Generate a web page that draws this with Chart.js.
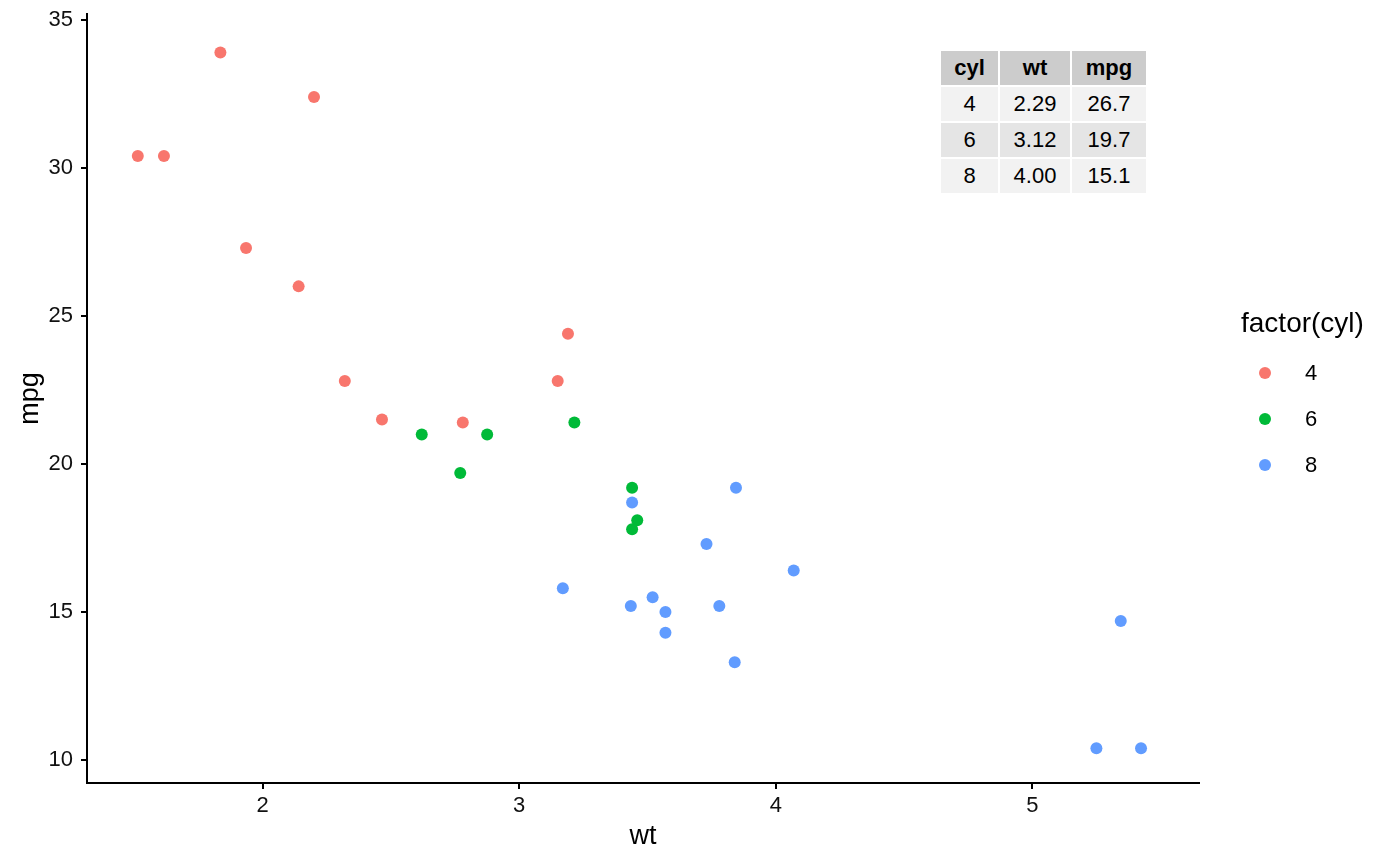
<!DOCTYPE html>
<html>
<head>
<meta charset="utf-8">
<script src="https://cdn.jsdelivr.net/npm/chart.js@4"></script>
<style>
  html,body{margin:0;padding:0;background:#fff;}
  #wrap{position:relative;width:1400px;height:866px;font-family:"Liberation Sans",Arial,sans-serif;}
  canvas{position:absolute;left:0;top:0;}
  #tbl{position:absolute;left:939px;top:49px;border-collapse:separate;border-spacing:2px;background:#fff;}
  #tbl td,#tbl th{padding:0;text-align:center;color:#000;line-height:1;}
  #tbl th{background:#cccccc;font-weight:bold;font-size:22px;height:34px;}
  #tbl td{font-size:22px;height:34px;}
  #tbl tr.r1 td{background:#f2f2f2;}
  #tbl tr.r2 td{background:#e5e5e5;}
  #tbl tr.r3 td{background:#f2f2f2;}
  #legend{position:absolute;left:1229px;top:306px;color:#000;}
  #legend .title{font-size:28px;line-height:34px;margin-bottom:10px;margin-left:12px;white-space:nowrap;}
  #legend .item{height:46px;display:flex;align-items:center;font-size:22px;}
  #legend .dot{width:12px;height:12px;border-radius:50%;display:inline-block;margin-left:30px;margin-right:34px;}
</style>
</head>
<body>
<div id="wrap">
<canvas id="c" width="1400" height="866"></canvas>
<table id="tbl"></table>
<div id="legend"></div>
</div>
<script>
// ---- data (mtcars) ----
const cylLevels = ["4", "6", "8"];
const colors = ["#F8766D", "#00BA38", "#619CFF"];
const wt4  = [2.320, 3.190, 3.150, 2.200, 1.615, 1.835, 2.465, 1.935, 2.140, 1.513, 2.780];
const mpg4 = [22.8, 24.4, 22.8, 32.4, 30.4, 33.9, 21.5, 27.3, 26.0, 30.4, 21.4];
const wt6  = [2.620, 2.875, 3.215, 3.460, 3.440, 3.440, 2.770];
const mpg6 = [21.0, 21.0, 21.4, 18.1, 19.2, 17.8, 19.7];
const wt8  = [3.440, 3.570, 4.070, 3.730, 3.780, 5.250, 5.424, 5.345, 3.520, 3.435, 3.840, 3.845, 3.170, 3.570];
const mpg8 = [18.7, 14.3, 16.4, 17.3, 15.2, 10.4, 10.4, 14.7, 15.5, 15.2, 13.3, 19.2, 15.8, 15.0];
const xTicks = [2, 3, 4, 5];
const yTicks = [10, 15, 20, 25, 30, 35];
const tableHeader = ["cyl", "wt", "mpg"];
const tableCyl = ["4", "6", "8"];
const tableWt = ["2.29", "3.12", "4.00"];
const tableMpg = ["26.7", "19.7", "15.1"];

const toPts = (xs, ys) => xs.map((x, i) => ({x: x, y: ys[i]}));
const series = [toPts(wt4, mpg4), toPts(wt6, mpg6), toPts(wt8, mpg8)];

// table
const tbl = document.getElementById('tbl');
let html = '<tr>' + tableHeader.map((h, i) => `<th style="width:${[57,70,74][i]}px">${h}</th>`).join('') + '</tr>';
for (let i = 0; i < tableCyl.length; i++) {
  html += `<tr class="r${i+1}"><td>${tableCyl[i]}</td><td>${tableWt[i]}</td><td>${tableMpg[i]}</td></tr>`;
}
tbl.innerHTML = html;

// legend
const lg = document.getElementById('legend');
let lh = '<div class="title">factor(cyl)</div>';
cylLevels.forEach((l, i) => { lh += `<div class="item"><span class="dot" style="background:${colors[i]}"></span>${l}</div>`; });
lg.innerHTML = lh;

const font = {family: '"Liberation Sans", Arial, sans-serif'};
new Chart(document.getElementById('c'), {
  type: 'scatter',
  data: {
    datasets: series.map((d, i) => ({
      label: cylLevels[i],
      data: d,
      backgroundColor: colors[i],
      borderWidth: 0,
      pointRadius: 6,
      pointHoverRadius: 6
    }))
  },
  options: {
    responsive: false,
    animation: false,
    devicePixelRatio: 1,
    layout: {padding: {left: 0, right: 201, top: 14, bottom: 0}},
    plugins: {legend: {display: false}, tooltip: {enabled: false}},
    scales: {
      x: {
        type: 'linear', min: 1.315, max: 5.65,
        afterBuildTicks: s => { s.ticks = xTicks.map(v => ({value: v})); },
        afterFit: s => { s.height = 83; s.paddingLeft = 0; s.paddingRight = 0; },
        grid: {drawOnChartArea: false, drawTicks: true, tickLength: 6, color: '#000', lineWidth: 2},
        border: {display: true, color: '#000', width: 2},
        ticks: {color: '#111', font: {...font, size: 22}, padding: 4, maxRotation: 0},
        title: {display: true, text: 'wt', color: '#000', font: {...font, size: 27}, padding: {top: 2, bottom: 13}}
      },
      y: {
        type: 'linear', min: 9.225, max: 35.2,
        afterBuildTicks: s => { s.ticks = yTicks.map(v => ({value: v})); },
        afterFit: s => { s.width = 87; s.paddingTop = 0; s.paddingBottom = 0; },
        grid: {drawOnChartArea: false, drawTicks: true, tickLength: 6, color: '#000', lineWidth: 2},
        border: {display: true, color: '#000', width: 2},
        ticks: {color: '#111', font: {...font, size: 22}, padding: 8},
        title: {display: true, text: 'mpg', color: '#000', font: {...font, size: 27}, padding: {bottom: 0, top: 14}}
      }
    }
  }
});
</script>
</body>
</html>
